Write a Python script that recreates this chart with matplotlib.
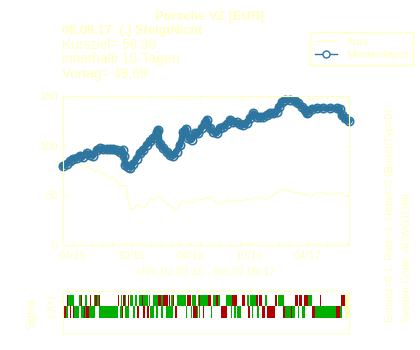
import pandas as pd
import matplotlib
matplotlib.use("Agg")
import matplotlib.pyplot as plt
import matplotlib.dates as mdates
from matplotlib.lines import Line2D

plt.rcParams['font.family'] = ['Liberation Sans', 'DejaVu Sans']

yel = "#ffffc0"
blue = "#2e76a0"
sig_colors = {"g": "#00b000", "r": "#b00000"}

start = pd.Timestamp("2015-03-02")
end = pd.Timestamp("2017-08-07")

# Kurs: Tage seit Start / Wert
kurs_days = [0, 20, 37, 53, 68, 76, 84, 99, 115, 125, 136, 146, 156, 167, 177, 187, 198,
             203, 210, 219, 229, 239, 250, 260, 272, 281, 291, 301, 312, 322, 333, 343,
             350, 358, 369, 379, 390, 400, 415, 426, 441, 455, 467, 483, 493, 504, 514,
             524, 540, 555, 571, 581, 597, 612, 628, 643, 659, 674, 690, 700, 716, 737,
             757, 773, 788, 804, 819, 835, 851, 866, 873, 889]
kurs_vals = [79, 81, 83, 80.5, 77, 79.5, 78, 74, 74.5, 72, 70, 67, 68, 64, 59, 60, 60,
             44, 37, 36, 40, 40, 37.6, 40, 47, 45, 47.7, 48.7, 45, 42, 40, 37,
             35, 37.6, 43.6, 44, 43, 42, 46, 45, 47, 47.7, 45, 42, 41, 43.6, 46,
             44, 45, 44, 46, 45, 47.7, 48.3, 45.3, 47.7, 52, 54.4, 56, 54.4, 53, 52,
             50.3, 48.7, 53, 53, 52, 50.3, 52, 53.7, 50.3, 48.7]

# Musterdepot: Tage seit Start / Wert
depot_days = [0, 11, 22, 32, 43, 53, 63, 74, 84, 94, 105, 115, 125, 136, 146, 156, 167,
              177, 185, 190, 193, 203, 208, 219, 229, 239, 250, 260, 270, 281, 291, 296,
              301, 312, 322, 333, 343, 353, 364, 374, 382, 390, 400, 410, 420, 431, 441,
              447, 457, 467, 478, 488, 498, 509, 519, 529, 540, 550, 560, 571, 581, 592,
              602, 612, 623, 633, 643, 654, 664, 672, 680, 690, 706, 721, 731, 742, 752,
              757, 763, 773, 788, 809, 830, 851, 861, 866, 876, 889]
depot_vals = [79.5, 81.5, 84.6, 87, 88, 90, 89, 92.3, 90.6, 90, 95.6, 97.3, 96.6, 96.6,
              96.3, 96.3, 95.6, 94, 95.6, 90, 80.5, 79, 78, 82, 87, 92.3, 95.6, 100.7,
              104.7, 107.4, 114, 115.8, 102, 97.3, 94, 90.6, 89.6, 94, 100.7, 114, 116.8,
              107.4, 105.7, 112.4, 112.4, 117.5, 122.5, 125.9, 117.5, 114, 112.4, 118,
              119, 121.5, 125.9, 123.5, 123.5, 121.5, 120.8, 122.5, 127.5, 132.6, 129.2,
              128.5, 129.2, 130.9, 132.6, 132.6, 133.6, 139.3, 144.3, 146, 146, 145.3,
              142.6, 139.3, 136, 132.6, 133.6, 137, 137.6, 137.6, 137.6, 137.6, 137,
              130.9, 127.5, 124.8]

# Signal (+): (von Tag, bis Tag, Farbe)
sig_plus = [(11, 14, "r"), (14, 34, "g"), (50, 55, "g"), (55, 58, "r"), (68, 74, "g"),
            (84, 86, "r"), (97, 101, "g"), (101, 105, "r"), (105, 113, "g"), (113, 115, "r"),
            (171, 174, "r"), (179, 182, "g"), (188, 192, "r"), (194, 197, "g"), (201, 205, "r"),
            (208, 219, "g"), (223, 230, "g"), (235, 247, "g"), (247, 250, "r"), (250, 263, "g"),
            (267, 269, "g"), (280, 295, "g"), (295, 306, "r"), (306, 311, "g"), (312, 326, "r"),
            (329, 333, "r"), (335, 342, "g"), (342, 345, "r"), (353, 382, "g"), (385, 398, "r"),
            (400, 413, "g"), (420, 423, "g"), (423, 426, "r"), (427, 451, "g"), (451, 461, "r"),
            (465, 475, "g"), (475, 482, "r"), (482, 488, "g"), (507, 524, "g"), (524, 541, "r"),
            (555, 558, "r"), (561, 566, "r"), (571, 578, "g"), (581, 600, "g"), (600, 605, "r"),
            (609, 620, "r"), (628, 633, "g"), (659, 665, "r"), (667, 686, "g"), (721, 729, "r"),
            (733, 742, "r"), (749, 763, "r"), (763, 774, "g"), (799, 802, "r"), (863, 878, "r")]
# Signal (-)
sig_minus = [(3, 8, "r"), (8, 14, "g"), (22, 26, "r"), (31, 34, "r"), (34, 50, "g"),
             (55, 65, "g"), (65, 69, "r"), (69, 71, "g"), (71, 80, "r"), (80, 99, "g"),
             (112, 171, "g"), (177, 184, "g"), (184, 187, "r"), (193, 204, "g"), (218, 223, "g"),
             (229, 237, "r"), (248, 256, "r"), (261, 267, "r"), (269, 282, "g"), (290, 295, "g"),
             (305, 312, "g"), (321, 343, "g"), (347, 353, "r"), (381, 384, "g"), (398, 402, "g"),
             (405, 415, "r"), (415, 420, "g"), (423, 427, "g"), (436, 439, "r"), (459, 462, "g"),
             (490, 509, "r"), (521, 524, "g"), (531, 538, "g"), (541, 553, "g"), (575, 580, "r"),
             (587, 592, "g"), (604, 609, "g"), (620, 628, "r"), (634, 660, "r"), (685, 690, "r"),
             (690, 710, "g"), (710, 713, "r"), (713, 722, "g"), (729, 734, "g"), (744, 751, "g"),
             (774, 784, "r"), (784, 848, "g"), (848, 861, "r"), (861, 866, "g")]
today_span = (878, 889)

title = "Porsche VZ [EUR]"
info_bold = "08.08.17: (.) SteigtNicht"
info_lines = ["Kursziel= 50.39", "innerhalb 10-Tagen", "Vortag= 48.69"]
xlabel = "»Mo,02.03.15 - Mo,07.08.17"
side_1 = "Einsatz=0.1, Rate=1, Hebel=3 (BenchTyp=0)"
side_2 = "System-Code: ACWO1G86"

kurs_dates = start + pd.to_timedelta(kurs_days, unit="D")
depot_dates = start + pd.to_timedelta(depot_days, unit="D")
x0 = mdates.date2num(start)

fig = plt.figure(figsize=(4.2, 3.5), dpi=100)
ax = fig.add_axes([0.15, 0.30, 0.681, 0.4257])
ax.plot(kurs_dates, kurs_vals, color=yel, lw=0.8)
ax.plot(depot_dates, depot_vals, color=blue, lw=4.5, marker="o", mfc="none",
        mec=blue, ms=6, mew=1.2, clip_on=False)
ax.set_xlim(start, end)
ax.set_ylim(0, 150)
ax.set_yticks([0, 50, 100, 150])
ax.xaxis.set_major_locator(mdates.MonthLocator(bymonth=[4, 10]))
ax.xaxis.set_minor_locator(mdates.MonthLocator())
ax.xaxis.set_major_formatter(mdates.DateFormatter("%m/%y"))
ax.tick_params(which="both", direction="in", top=True, right=True, length=3,
               color=yel, labelcolor=yel, labelsize=8, pad=4)
for s in ax.spines.values():
    s.set_color(yel)
    s.set_linewidth(0.8)
ax.set_xlabel(xlabel, color=yel, fontsize=8, labelpad=4)

# Signal-Leiste
sx = fig.add_axes([0.15, 0.0486, 0.681, 0.12])
for row, segs in ((1, sig_plus), (0, sig_minus)):
    for c in ("g", "r"):
        bars = [(x0 + a, b - a) for a, b, col in segs if col == c]
        sx.broken_barh(bars, (row - 0.5, 1), facecolors=sig_colors[c], edgecolor="none")
sx.broken_barh([(x0 + today_span[0], today_span[1] - today_span[0])], (-0.5, 2),
               facecolors=yel, edgecolor="none")
sx.set_xlim(start, end)
sx.set_ylim(-1.9, 1.9)
sx.set_xticks([])
sx.set_yticks([0, 1])
sx.set_yticklabels(["(-)", "(+)"], rotation=90, va="center", fontsize=8, color=yel)
sx.tick_params(axis="y", length=3, color=yel, pad=2)
for s in sx.spines.values():
    s.set_color(yel)
    s.set_linewidth(0.8)
fig.text(0.076, 0.105, "Signal", rotation=90, ha="center", va="center", color=yel, fontsize=8)

# Texte
fig.text(0.498, 0.944, title, ha="center", va="baseline", color=yel, fontsize=9.2, fontweight="bold")
fig.text(0.148, 0.903, info_bold, ha="left", va="baseline", color=yel, fontsize=9.2, fontweight="bold")
for i, line in enumerate(info_lines):
    fig.text(0.148, 0.861 - i * 0.042, line, ha="left", va="baseline", color=yel, fontsize=9.8)
fig.text(0.929, 0.08, side_1, rotation=90, ha="center", va="bottom", color=yel, fontsize=7.7)
fig.text(0.969, 0.08, side_2, rotation=90, ha="center", va="bottom", color=yel, fontsize=7.7)

handles = [Line2D([], [], color=yel, lw=0.8),
           Line2D([], [], color=blue, lw=1, marker="o", mfc="white", mec=blue, ms=5)]
fig.legend(handles, ["Kurs", "Musterdepot"], loc="upper left", bbox_to_anchor=(0.738, 0.909),
           frameon=True, fancybox=False, edgecolor=yel, framealpha=1, fontsize=8,
           labelcolor=yel, handlelength=2.0, handletextpad=0.8, borderpad=0.45,
           labelspacing=0.3, borderaxespad=0)

fig.savefig("out.png", dpi=100)
